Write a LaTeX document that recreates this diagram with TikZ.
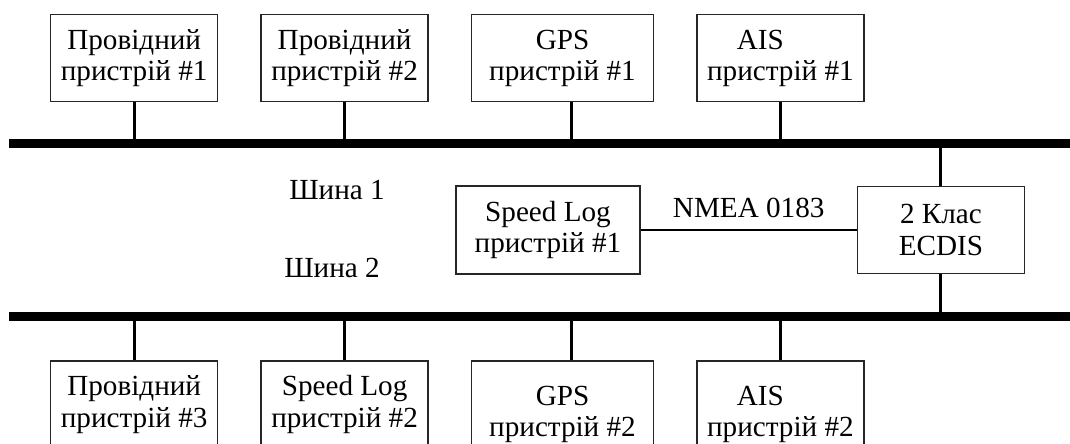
\documentclass[tikz,border=0pt]{standalone}
\usepackage{fontspec}
\setmainfont{Liberation Serif}
\usetikzlibrary{positioning}

\begin{document}
\begin{tikzpicture}[
    x=0.1mm, y=-0.1mm,
    node distance=4.2mm,
    box/.style={rectangle, draw=black!85, line width=0.4pt, minimum width=#1, minimum height=8.7mm, align=center, inner sep=0pt, font=\fontsize{8.3}{8.9}\selectfont},
    box/.default=16.7mm,
    bus/.style={line width=0.9mm},
    stem/.style={line width=0.85pt},
    link/.style={line width=0.55pt},
    buslabel/.style={font=\fontsize{8.3}{8.9}\selectfont}
]
\useasboundingbox (0,0) rectangle (1070,443);

% Buses
\coordinate (b1w) at (9,143);
\coordinate (b1e) at (1070,143);
\coordinate (b2w) at (9,316);
\coordinate (b2e) at (1070,316);

% Top row
\node[box, anchor=north west] (pr1) at (50,14) {Провідний\\пристрій \#1};
\node[box, right=of pr1] (pr2) {Провідний\\пристрій \#2};
\node[box=18.2mm, right=of pr2] (gps1) {GPS\\пристрій \#1};
\node[box, right=of gps1] (ais1) {AIS\hspace*{4mm}\\пристрій \#1};

% Bottom row
\node[box, below=25.8mm of pr1] (pr3) {Провідний\\пристрій \#3};
\node[box, below=25.8mm of pr2] (speed2) {Speed Log\\пристрій \#2};
\node[box=18.2mm, minimum height=10.7mm, below=25.8mm of gps1] (gps2) {GPS\\пристрій \#2};
\node[box, minimum height=10.7mm, below=25.8mm of ais1] (ais2) {AIS\hspace*{4mm}\\пристрій \#2};

% Middle
\node[box=18.4mm, minimum height=8.8mm] (speed1) at (548,230) {Speed Log\\пристрій \#1};
\node[box, right=21.6mm of speed1] (ecdis) {2 Клас\\ECDIS};

\node[buslabel] (bus1) at (337,190) {Шина 1};
\node[buslabel] (bus2) at (332,268) {Шина 2};

% Stems
\foreach \n in {pr1,pr2,ais1}
  \draw[stem] (\n.south) -- (\n.south |- b1w);
\draw[stem] ([xshift=0.9mm]gps1.south) -- ([xshift=0.9mm]gps1.south |- b1w);
\foreach \n in {pr3,speed2,ais2}
  \draw[stem] (\n.north) -- (\n.north |- b2w);
\draw[stem] ([xshift=0.9mm]gps2.north) -- ([xshift=0.9mm]gps2.north |- b2w);
\draw[stem] (ecdis.north) -- (ecdis.north |- b1w);
\draw[stem] (ecdis.south) -- (ecdis.south |- b2w);

\draw[bus] (b1w) -- (b1e);
\draw[bus] (b2w) -- (b2e);

% NMEA link
\draw[link] (speed1) -- node[above, buslabel] {NMEA 0183} (ecdis);

\end{tikzpicture}
\end{document}
